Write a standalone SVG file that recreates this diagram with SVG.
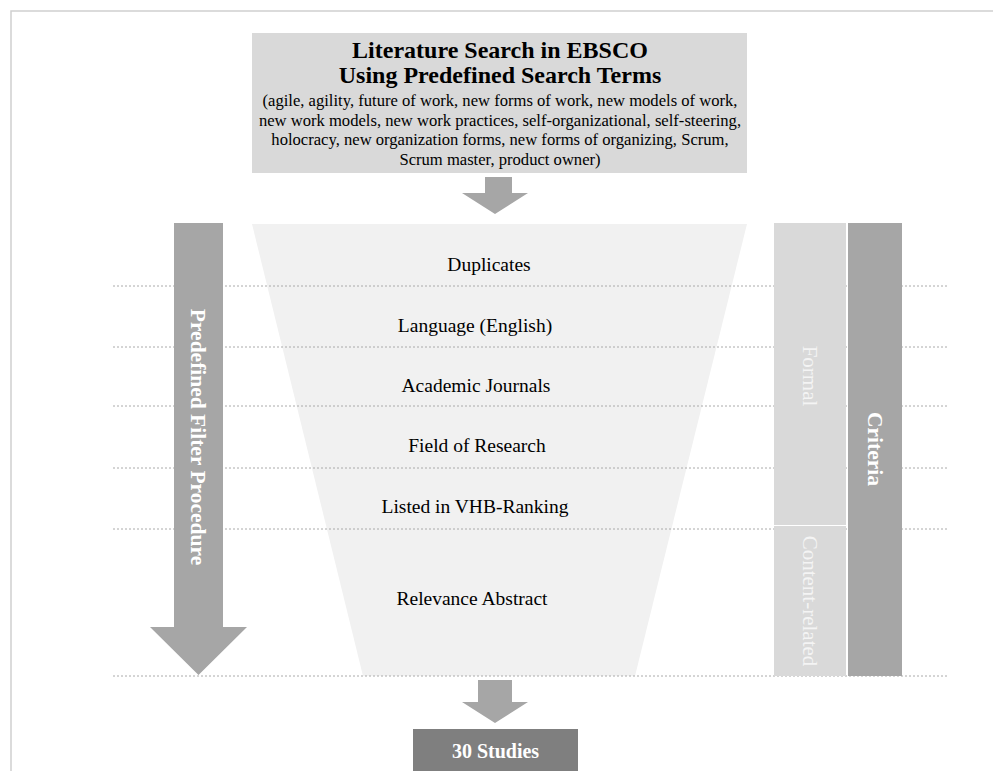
<svg xmlns="http://www.w3.org/2000/svg" width="993" height="771" viewBox="0 0 993 771">
<style>
  .serif { font-family: "Liberation Serif", "Times New Roman", serif; }
  .title { font-size: 24px; font-weight: bold; fill: #000; text-anchor: middle; }
  .terms { font-size: 16.6px; fill: #000; text-anchor: middle; }
  .step { font-size: 19.5px; fill: #000; text-anchor: middle; }
  .vbold { font-size: 21.5px; font-weight: bold; fill: #fff; text-anchor: middle; }
  .vreg { font-size: 21px; fill: #f4f4f4; text-anchor: middle; }
  .dot { stroke: #aaaaaa; stroke-width: 1; stroke-dasharray: 2 2; fill: none; }
  .arrow { fill: #a6a6a6; }
</style>
<rect width="993" height="771" fill="#ffffff"/>
<path d="M11 771 V11 H993" fill="none" stroke="#d0d0d0" stroke-width="1.5"/>

<g id="funnel">
  <polygon points="252,224 747,224 635,676 363,676" fill="#f1f1f1"/>
</g>

<g id="separators">
  <line class="dot" x1="113" y1="286" x2="947" y2="286"/>
  <line class="dot" x1="113" y1="347" x2="947" y2="347"/>
  <line class="dot" x1="113" y1="406" x2="947" y2="406"/>
  <line class="dot" x1="113" y1="468" x2="947" y2="468"/>
  <line class="dot" x1="113" y1="529" x2="947" y2="529"/>
  <line class="dot" x1="113" y1="676" x2="947" y2="676"/>
</g>

<g id="search">
  <rect x="252" y="33" width="495" height="140" fill="#d9d9d9"/>
  <text class="serif title" x="500" y="58">Literature Search in EBSCO</text>
  <text class="serif title" x="500" y="83">Using Predefined Search Terms</text>
  <text class="serif terms" x="500" y="106">(agile, agility, future of work, new forms of work, new models of work,</text>
  <text class="serif terms" x="500" y="125.5">new work models, new work practices, self-organizational, self-steering,</text>
  <text class="serif terms" x="500" y="145">holocracy, new organization forms, new forms of organizing, Scrum,</text>
  <text class="serif terms" x="500" y="164.5">Scrum master, product owner)</text>
</g>

<g id="connectors">
  <polygon class="arrow" points="485,177 512,177 512,193 528,193 495,214 462,193 485,193"/>
  <polygon class="arrow" points="478,680 512,680 512,702 528,702 495,723 462,702 478,702"/>
</g>

<g id="steps">
  <text class="serif step" x="489" y="271">Duplicates</text>
  <text class="serif step" x="475" y="332">Language (English)</text>
  <text class="serif step" x="476" y="392">Academic Journals</text>
  <text class="serif step" x="477" y="452">Field of Research</text>
  <text class="serif step" x="475" y="513">Listed in VHB-Ranking</text>
  <text class="serif step" x="472" y="605">Relevance Abstract</text>
</g>

<g id="procedure">
  <polygon class="arrow" points="174,223 223,223 223,627 247,627 198.5,675 150,627 174,627"/>
  <text class="serif vbold" transform="translate(191,437) rotate(90)">Predefined Filter Procedure</text>
</g>

<g id="formal">
  <rect x="774" y="223" width="72" height="302" fill="#d9d9d9"/>
  <text class="serif vreg" transform="translate(803,376) rotate(90)">Formal</text>
</g>

<g id="content-related">
  <rect x="774" y="526" width="72" height="150" fill="#d9d9d9"/>
  <text class="serif vreg" transform="translate(803,601) rotate(90)">Content-related</text>
</g>

<g id="criteria">
  <rect x="848" y="223" width="54" height="453" fill="#a6a6a6"/>
  <text class="serif vbold" transform="translate(868,449) rotate(90)">Criteria</text>
</g>

<g id="result">
  <rect x="413" y="729" width="165" height="42" fill="#7f7f7f"/>
  <text class="serif vbold" style="font-size:20px" x="495.5" y="758">30 Studies</text>
</g>
</svg>
